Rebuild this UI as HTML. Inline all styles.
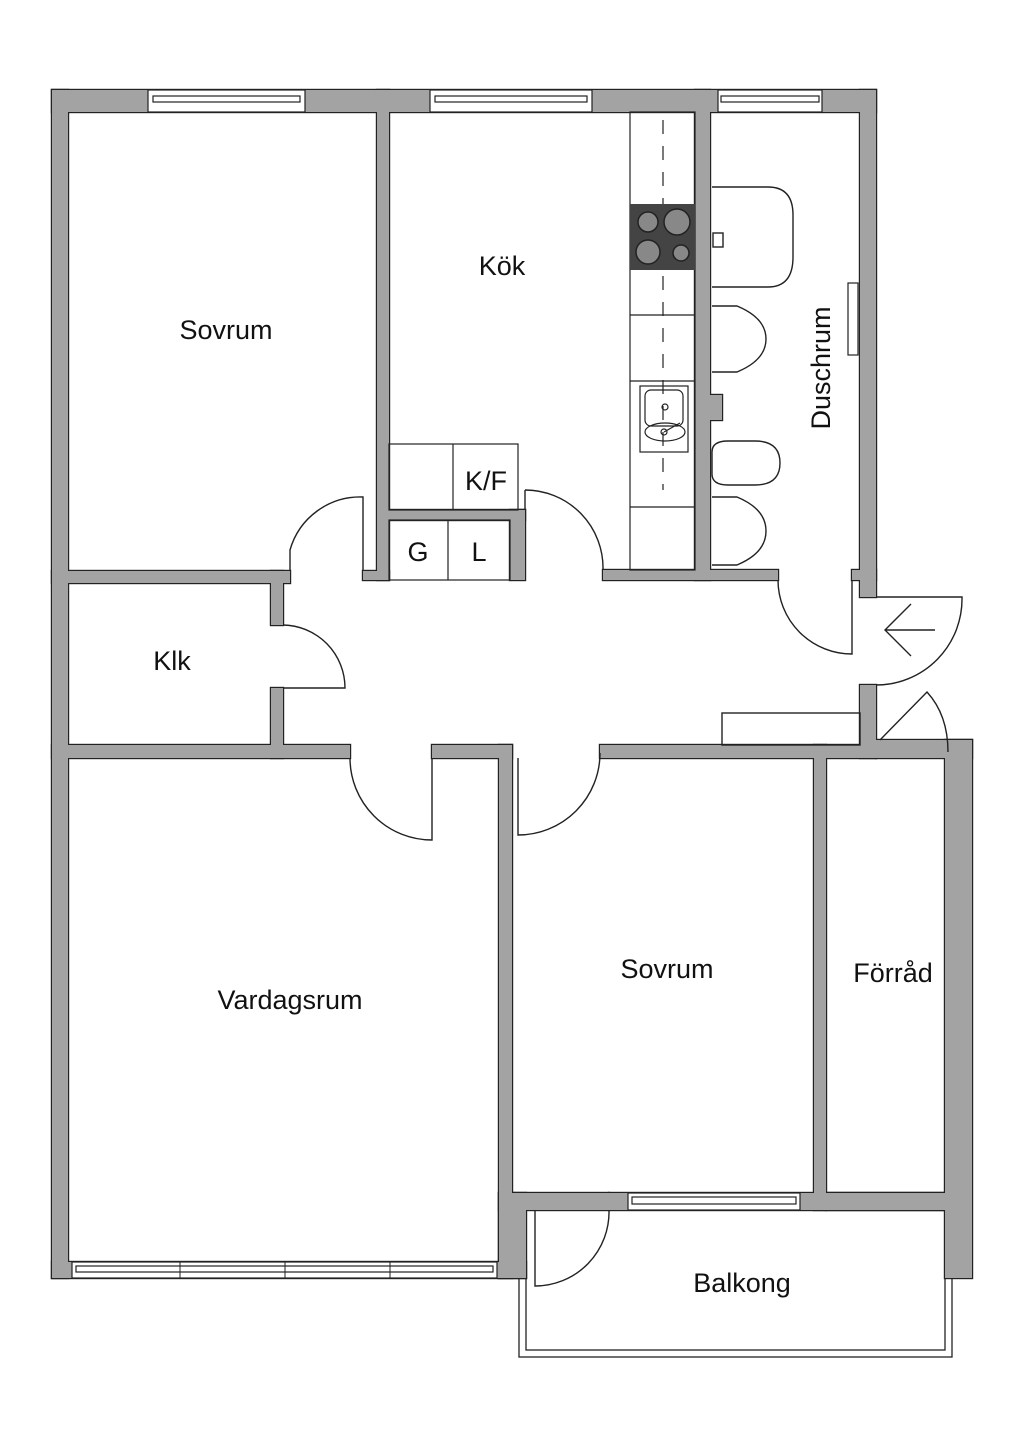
<!DOCTYPE html>
<html><head><meta charset="utf-8"><style>
html,body{margin:0;padding:0;background:#fff}
svg{display:block}
text{font-family:"Liberation Sans",sans-serif;fill:#111}
</style></head><body>
<svg width="1024" height="1448" viewBox="0 0 1024 1448" xmlns="http://www.w3.org/2000/svg">
<rect width="1024" height="1448" fill="#fff"/>
<!-- balcony -->
<rect x="519" y="1200" width="433" height="157" fill="#fff" stroke="#222" stroke-width="1.3"/>
<rect x="526" y="1210" width="419" height="140" fill="#fff" stroke="#222" stroke-width="1.3"/>
<g id="walls">
<rect x="52" y="90" width="824" height="22"/>
<rect x="52" y="90" width="16" height="1188"/>
<rect x="860" y="90" width="16" height="507"/>
<rect x="860" y="685" width="16" height="73"/>
<rect x="52" y="1262" width="474" height="16"/>
<rect x="499" y="745" width="13" height="533"/>
<rect x="499" y="1193" width="27" height="85"/>
<rect x="499" y="1193" width="110" height="17"/>
<rect x="609" y="1193" width="336" height="17"/>
<rect x="945" y="740" width="27" height="538"/>
<rect x="876" y="740" width="96" height="18"/>
<rect x="814" y="745" width="12" height="465"/>
<rect x="826" y="1193" width="119" height="17"/>
<rect x="52" y="745" width="298" height="13"/>
<rect x="432" y="745" width="80" height="13"/>
<rect x="600" y="745" width="276" height="13"/>
<rect x="271" y="571" width="12" height="54"/>
<rect x="271" y="688" width="12" height="70"/>
<rect x="52" y="571" width="238" height="12"/>
<rect x="377" y="90" width="12" height="490"/>
<rect x="363" y="571" width="26" height="9"/>
<rect x="389" y="510" width="136" height="10"/>
<rect x="510" y="510" width="15" height="70"/>
<rect x="603" y="570" width="175" height="10"/>
<rect x="695" y="90" width="15" height="490"/>
<rect x="710" y="395" width="12" height="25"/>
<rect x="852" y="570" width="24" height="10"/>
</g>
<use href="#walls" fill="none" stroke="#222" stroke-width="2.4"/>
<use href="#walls" fill="#a3a3a3"/>
<!-- windows -->
<g fill="#fff" stroke="#222" stroke-width="1.2">
<rect x="148" y="90" width="157" height="22"/><rect x="153" y="96" width="147" height="6"/>
<rect x="430" y="90" width="162" height="22"/><rect x="435" y="96" width="152" height="6"/>
<rect x="718" y="90" width="104" height="22"/><rect x="721" y="96" width="98" height="6"/>
<rect x="72" y="1262" width="425" height="16"/><rect x="76" y="1266" width="417" height="6"/>
<rect x="628" y="1193" width="172" height="17"/><rect x="632" y="1197" width="164" height="7"/>
<rect x="848" y="283" width="10" height="72"/>
</g>
<line x1="180" y1="1262" x2="180" y2="1278" stroke="#222"/><line x1="285" y1="1262" x2="285" y2="1278" stroke="#222"/><line x1="390" y1="1262" x2="390" y2="1278" stroke="#222"/>
<!-- kitchen counter -->
<g fill="none" stroke="#222" stroke-width="1.2">
<rect x="630" y="112" width="65" height="458"/>
<line x1="630" y1="315" x2="695" y2="315"/><line x1="630" y1="381" x2="695" y2="381"/><line x1="630" y1="507" x2="695" y2="507"/>
<line x1="663" y1="120" x2="663" y2="490" stroke-dasharray="14,12"/>
<rect x="389" y="444" width="129" height="66"/><line x1="453" y1="444" x2="453" y2="510"/>
<rect x="389" y="520" width="121" height="60"/><line x1="448" y1="520" x2="448" y2="580"/>
<rect x="640" y="386" width="48" height="66"/><rect x="645" y="390" width="38" height="36" rx="6"/><ellipse cx="665" cy="432" rx="20" ry="9"/>
<circle cx="665" cy="407" r="3"/><circle cx="664" cy="432" r="3"/><line x1="664" y1="432" x2="680" y2="423"/>
</g>
<rect x="630" y="204" width="65" height="66" fill="#444"/>
<g fill="#888" stroke="#222" stroke-width="1.5">
<circle cx="648" cy="222" r="10"/><circle cx="677" cy="222" r="13"/><circle cx="648" cy="252" r="12"/><circle cx="681" cy="253" r="8"/>
</g>
<!-- bathroom fixtures -->
<g fill="none" stroke="#222" stroke-width="1.4">
<path d="M712 187 H768 Q793 187 793 215 V257 Q793 287 768 287 H712"/>
<path d="M712 306 H737 Q766 318 766 339 Q766 360 737 372 H712"/>
<path d="M712 497 H737 Q766 509 766 531 Q766 553 737 565 H712"/>
<path d="M712 452 Q712 441 728 441 H755 Q780 441 780 463 Q780 485 755 485 H728 Q712 485 712 474 Z"/>
<rect x="713" y="233" width="10" height="14"/>
<!-- doors -->
<path d="M290 571 V550 A73 73 0 0 1 363 497 V571"/>
<path d="M283 625 H283 A63 63 0 0 1 345 688 H283"/>
<path d="M525 490 A78 78 0 0 1 603 570"/>
<line x1="525" y1="490" x2="525" y2="510"/>
<path d="M778 580 A74 74 0 0 0 852 654 V580"/>
<path d="M876 597 H962 A86 86 0 0 1 876 685"/>
<path d="M885 630 H935 M911 604 L885 630 L911 656"/>
<path d="M880 740 L927 692 Q948 715 948 752"/>
<path d="M350 758 A82 82 0 0 0 432 840 V758"/>
<path d="M518 758 V835 A82 82 0 0 0 600 753"/>
<path d="M535 1210 V1286 A74 74 0 0 0 609 1210"/>
<rect x="722" y="713" width="138" height="32"/>
</g>
<!-- labels -->
<g font-size="27">
<text x="226" y="339" text-anchor="middle">Sovrum</text>
<text x="502" y="275" text-anchor="middle">Kök</text>
<text x="486" y="490" text-anchor="middle">K/F</text>
<text x="418" y="561" text-anchor="middle">G</text>
<text x="479" y="561" text-anchor="middle">L</text>
<text x="172" y="670" text-anchor="middle">Klk</text>
<text x="290" y="1009" text-anchor="middle">Vardagsrum</text>
<text x="667" y="978" text-anchor="middle">Sovrum</text>
<text x="893" y="982" text-anchor="middle">Förråd</text>
<text x="742" y="1292" text-anchor="middle">Balkong</text>
<text transform="translate(830,368) rotate(-90)" text-anchor="middle">Duschrum</text>
</g>
</svg>
</body></html>
